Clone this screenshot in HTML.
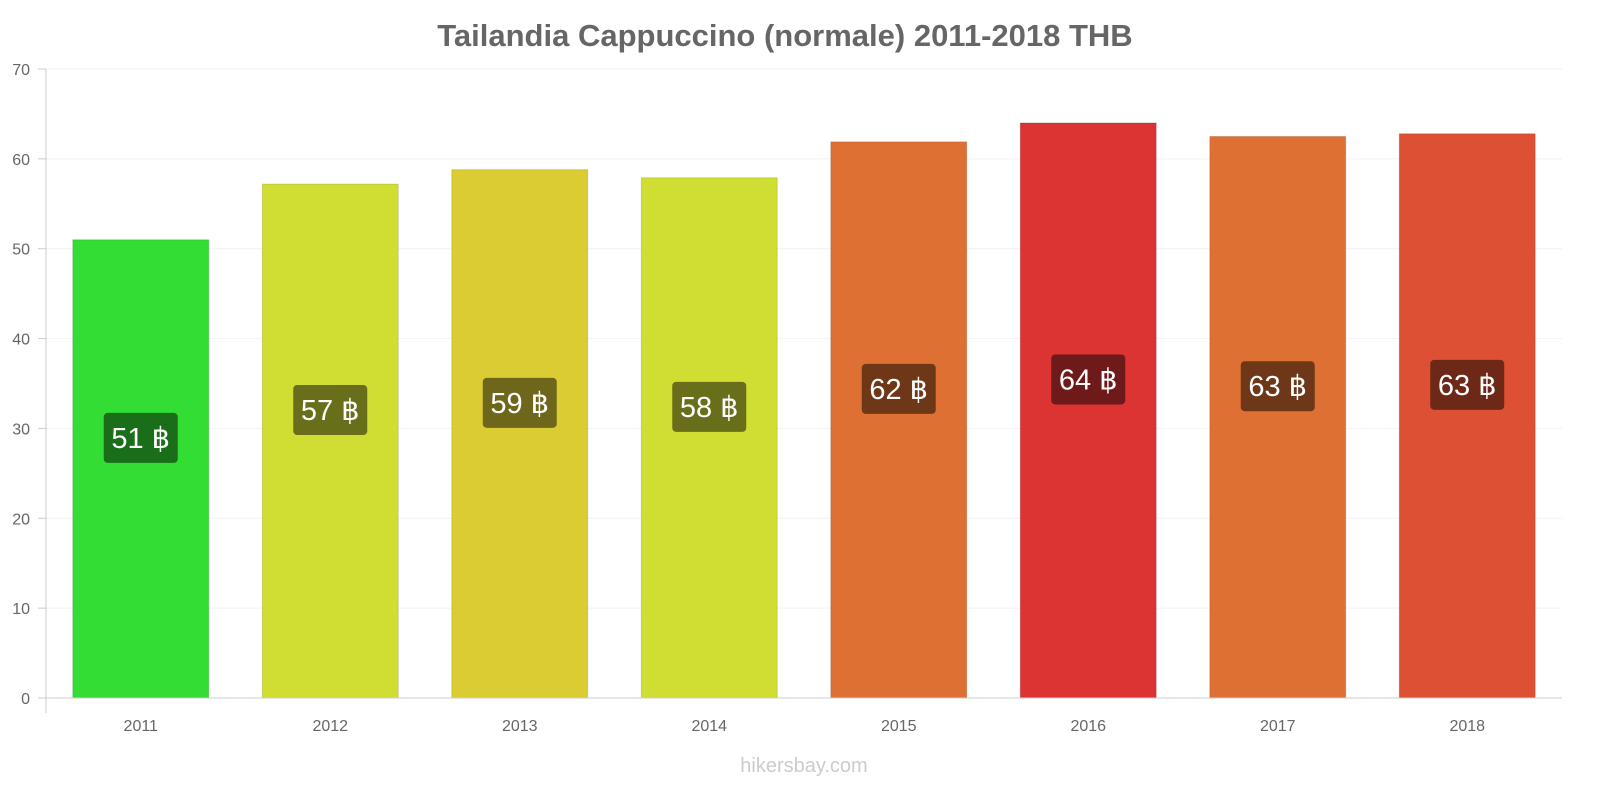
<!DOCTYPE html>
<html><head><meta charset="utf-8"><style>
body{margin:0;background:#fff;}
svg{display:block;font-family:"Liberation Sans",sans-serif;}
</style></head><body>
<svg id="chart" width="1600" height="800">
<text x="785" y="46" text-anchor="middle" font-size="31" font-weight="bold" fill="#666">Tailandia Cappuccino (normale) 2011-2018 THB</text>
<g id="grid"></g><g id="bars"></g><g id="axes"></g>
<text x="804" y="772" text-anchor="middle" font-size="20" fill="#ccc">hikersbay.com</text>
</svg>
<script>
const categories=["2011","2012","2013","2014","2015","2016","2017","2018"];
const values=[51,57.2,58.8,57.9,61.9,64,62.5,62.8];
const labels=["51 ฿","57 ฿","59 ฿","58 ฿","62 ฿","64 ฿","63 ฿","63 ฿"];
const fills=["#33dd33","#d0dd33","#dccc33","#d0dd33","#de7033","#dc3333","#de7033","#dd5033"];
const labelBgs=["#1a6e1a","#686e1a","#6e661a","#686e1a","#6e3818","#6e1a1a","#6e3818","#6e2818"];
const yTicks=[0,10,20,30,40,50,60,70];
const NS="http://www.w3.org/2000/svg";
const x0=46,x1=1562,yBase=698,yTop=69,yMax=70;
const band=(x1-x0)/categories.length;
const y=v=>yBase-(v/yMax)*(yBase-yTop);
const xc=i=>x0+band*(i+0.5);
function mk(t,a,p){const e=document.createElementNS(NS,t);for(const k in a)e.setAttribute(k,a[k]);p.appendChild(e);return e;}
const grid=document.getElementById('grid'),bars=document.getElementById('bars'),axes=document.getElementById('axes');
yTicks.forEach(t=>{
 const l=mk('line',{x1:x0,x2:x1,y1:y(t),y2:y(t),stroke:"#f2f2f2"},grid);
 
 
 const tk=mk('line',{x1:38,x2:x0,y1:y(t),y2:y(t),stroke:"#ccc"},axes);
 
 
 const tx=mk('text',{x:30,y:y(t)+6,'text-anchor':'end','font-size':16,fill:'#666'},axes);
 tx.textContent=t;
 
 
});
const bw=136;
categories.forEach((c,i)=>{
 const top=y(values[i]);
 const r=mk('rect',{x:xc(i)-bw/2,y:top,width:bw,height:yBase-top,fill:fills[i],stroke:"rgba(0,0,0,0.12)"},bars);
 
 
 const cy=(yBase+top)/2-31;
 const g=mk('g',{},bars);
 
 
 mk('rect',{x:xc(i)-37,y:cy-25,width:74,height:50,rx:4,fill:labelBgs[i]},g);
 const t=mk('text',{x:xc(i),y:cy+10,'text-anchor':'middle','font-size':29,fill:'#fff'},g);
 t.textContent=labels[i];
 const xl=mk('text',{x:xc(i),y:731,'text-anchor':'middle','font-size':16,fill:'#666'},axes);
 xl.textContent=c;
 
 
});
const ya=mk('line',{x1:x0,x2:x0,y1:yTop,y2:713,stroke:"#ccc"},axes);


const xa=mk('line',{x1:38,x2:x1,y1:yBase,y2:yBase,stroke:"#ccc"},axes);


</script>
</body></html>
